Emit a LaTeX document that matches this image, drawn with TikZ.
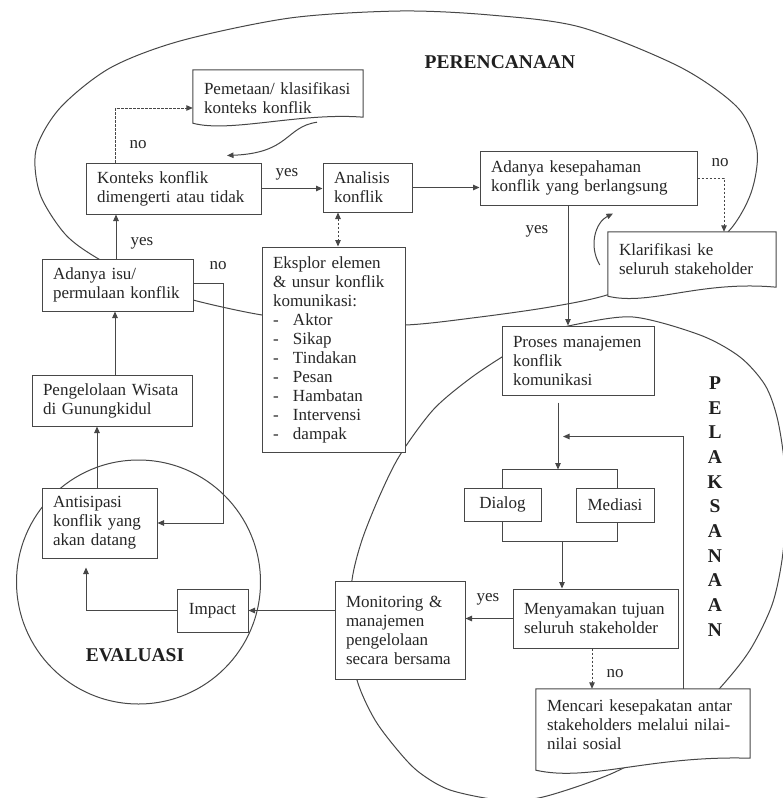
\documentclass[tikz,border=0pt]{standalone}
\usepackage{fontspec}
\setmainfont{Liberation Serif}
\usetikzlibrary{arrows.meta,calc}
\pgfdeclarelayer{back}
\pgfdeclarelayer{mid}
\pgfsetlayers{back,mid,main}
\begin{document}
\begin{tikzpicture}[x=1pt,y=-1pt,
  txt/.style={font=\fontsize{17}{19}\selectfont, text=black!85},
  box/.style={txt, draw=black!72, line width=1pt, fill=white, rectangle, inner xsep=11pt, inner ysep=0pt, align=left},
  cbox/.style={txt, draw=black!72, line width=1pt, fill=white, rectangle, inner sep=0pt, align=center},
  doc/.style={txt, rectangle, inner xsep=11pt, inner ysep=0pt, align=left},
  ln/.style={draw=black!72, line width=1pt},
  tip/.tip={Triangle[length=6.5pt,width=5.5pt]},
  arr/.style={ln, -tip},
  darr/.style={ln, dash pattern=on 2.5pt off 1.5pt, -tip},
  lbl/.style={txt, inner sep=0pt},
  ttl/.style={font=\fontsize{19.5}{24.7}\selectfont\bfseries, text=black!88, inner sep=0pt},
  zone/.style={draw=black!72, line width=1pt}
]
\useasboundingbox (0,0) rectangle (783,798);

% ---------- nodes ----------
\node[doc, text width=148pt, minimum height=57pt] (pem) at (278,98.5) {Pemetaan/ klasifikasi\\konteks konflik};
\node[box, text width=153pt, minimum height=51pt] (kon) at (173.5,188.5) {Konteks konflik\\dimengerti atau tidak};
\node[box, text width=67pt, minimum height=49pt] (ana) at (367.5,187.5) {Analisis\\konflik};
\node[box, text width=195pt, minimum height=54pt] (kes) at (588.5,178) {Adanya kesepahaman\\konflik yang berlangsung};
\node[doc, text width=146pt, minimum height=54pt] (kla) at (692,259) {Klarifikasi ke\\seluruh stakeholder};
\node[box, text width=129pt, minimum height=52pt] (isu) at (117.5,285) {Adanya isu/\\permulaan konflik};
\node[box, text width=121pt, minimum height=205pt] (eks) at (333.5,349.5) {Eksplor elemen\\\& unsur konflik\\komunikasi:\\\makebox[20pt][l]{-}Aktor\\\makebox[20pt][l]{-}Sikap\\\makebox[20pt][l]{-}Tindakan\\\makebox[20pt][l]{-}Pesan\\\makebox[20pt][l]{-}Hambatan\\\makebox[20pt][l]{-}Intervensi\\\makebox[20pt][l]{-}dampak};
\node[box, text width=138pt, minimum height=51pt] (pen) at (112,400.5) {Pengelolaan Wisata\\di Gunungkidul};
\node[box, text width=93pt, minimum height=70pt] (ant) at (99.5,523) {Antisipasi\\konflik yang\\akan datang};
\node[cbox, minimum width=71pt, minimum height=43pt] (imp) at (212.5,610.5) {Impact};
\node[box, text width=108pt, minimum height=98pt] (mon) at (400,630) {Monitoring \&\\manajemen\\pengelolaan\\secara bersama};
\node[box, text width=130pt, minimum height=69pt] (pro) at (578,360.5) {Proses manajemen\\konflik\\komunikasi};
\node[cbox, minimum width=77pt, minimum height=33pt] (dia) at (502.5,504.5) {Dialog};
\node[cbox, minimum width=78pt, minimum height=34pt] (med) at (615,505) {Mediasi};
\node[box, text width=143pt, minimum height=59pt] (meny) at (595.5,618.5) {Menyamakan tujuan\\seluruh stakeholder};
\node[doc, text width=192pt, minimum height=72pt] (men) at (643,725) {Mencari kesepakatan antar\\stakeholders melalui nilai-\\nilai sosial};

% ---------- titles ----------
\node[ttl] (tper) at (500,62) {PERENCANAAN};
\node[ttl] (tev) at (135,655) {EVALUASI};
\node[ttl, align=center] (tpel) at (715,506.5) {P\\E\\L\\A\\K\\S\\A\\N\\A\\A\\N};

% ---------- labels ----------
\node[lbl] (l1) at (138,145) {no};
\node[lbl] (l2) at (287,174) {yes};
\node[lbl] (l3) at (142,243) {yes};
\node[lbl] (l4) at (218,266) {no};
\node[lbl] (l5) at (720,163) {no};
\node[lbl] (l6) at (537,231) {yes};
\node[lbl] (l7) at (488,599) {yes};
\node[lbl] (l8) at (615,674) {no};

% ---------- zones ----------
\begin{pgfonlayer}{back}
\draw[zone] plot[smooth cycle] coordinates {(400,11) (290,18) (180,41) (110,68) (60,108) (36,150) (40,194) (65,234) (97,258) (150,285) (193,300) (262,315) (330,322) (405,325) (480,317) (550,307) (607,295) (680,268) (728,232) (751,193) (757,150) (738,108) (680,67) (580,27) (490,15)};
\draw[zone] plot[smooth cycle] coordinates {(633,317) (700,335) (740,357) (765,385) (777,417) (784,460) (786,510) (782,560) (772,605) (750,650) (720,688) (670,740) (613,773) (543,797) (500,800) (450,790) (420,773) (400,753) (375,720) (357,680) (350,630) (352,580) (362,540) (380,495) (400,455) (433,410) (468,380) (502,357) (540,335) (573,325)};
\draw[zone] (138.5,582) circle[radius=122pt];
\end{pgfonlayer}

% ---------- document shapes ----------
\begin{pgfonlayer}{mid}
\draw[ln, fill=white] (pem.north west) -- (pem.north east) -- ($(pem.south east)+(0,-10)$) .. controls ($(pem.south west)+(107,-15)$) and ($(pem.south west)+(37,6)$) .. ($(pem.south west)+(0,-4)$) -- cycle;
\draw[ln, fill=white] (kla.north west) -- (kla.north east) -- ($(kla.south east)+(0,1)$) .. controls ($(kla.south west)+(92,-6)$) and ($(kla.south west)+(42,20)$) .. ($(kla.south west)+(0,10)$) -- cycle;
\draw[ln, fill=white] (men.north west) -- (men.north east) -- ($(men.south east)+(0,-3)$) .. controls ($(men.south west)+(114,-6)$) and ($(men.south west)+(54,21)$) .. ($(men.south west)+(0,9)$) -- cycle;
\end{pgfonlayer}

% ---------- connectors ----------
\coordinate (c1) at ($(isu.north)+(-1.5,0)$);
\draw[arr] (c1) -- (c1 |- kon.south);
\coordinate (c2) at ($(kon.north west)+(30,0)$);
\coordinate (c3) at ($(pem.west)+(0,9.5)$);
\draw[darr] (c2) |- (c3);
\draw[arr] ($(pem.south)+(39,-5)$) .. controls (285,127) and (290,153) .. ($(kon.north)+(53.5,-7)$);
\draw[arr] (kon.east) -- (kon.east -| ana.west);
\draw[ln, dash pattern=on 2.5pt off 1.5pt, tip-tip] ($(ana.south)+(-29.5,0)$) -- ($(eks.north)+(4.5,0)$);
\draw[arr] (ana.east) -- (ana.east -| kes.west);
\draw[darr] (kes.east) -| ($(kla.north)+(32,0)$);
\draw[arr] ($(kla.west)+(-8,6)$) .. controls (588,245) and (596,222) .. ($(kes.south)+(24.5,8)$);
\coordinate (c4) at ($(kes.south)+(-20.5,0)$);
\draw[arr] (c4) -- (c4 |- pro.north);
\coordinate (c5) at ($(pen.north)+(3,0)$);
\draw[arr] (c5) -- (c5 |- isu.south);
\coordinate (c6) at ($(ant.north)+(-2.5,0)$);
\draw[arr] (c6) -- (c6 |- pen.south);
\draw[arr] ($(isu.east)+(0,-2)$) -- ++(30,0) |- (ant.east);
\coordinate (c7) at ($(ant.south)+(-13.5,0)$);
\draw[arr, shorten >=9pt] (imp.west) -| (c7);
\draw[arr] (imp.east -| mon.west) -- (imp.east);
\draw[arr] (meny.west) -- (meny.west -| mon.east);
\coordinate (bt) at ($(dia.north)+(0,-18)$);
\coordinate (c8) at ($(pro.south)+(-20,7)$);
\draw[arr] (c8) -- (c8 |- bt);
\draw[ln] (dia.north) -- (bt) -| ($(med.north)+(2,0)$);
\coordinate (bb) at ($(dia.south)+(0,20)$);
\draw[ln] (dia.south) -- (bb) -| ($(med.south)+(2,0)$);
\coordinate (c9) at ($(meny.north)+(-33.5,0)$);
\draw[arr] (c9 |- bb) -- (c9);
\coordinate (c10) at ($(meny.south)+(-3.5,0)$);
\draw[darr] (c10) -- (c10 |- men.north);
\coordinate (lp) at ($(pro.south)+(-15,41)$);
\draw[arr] ($(men.north)+(40,0)$) |- (lp);
\end{tikzpicture}
\end{document}
